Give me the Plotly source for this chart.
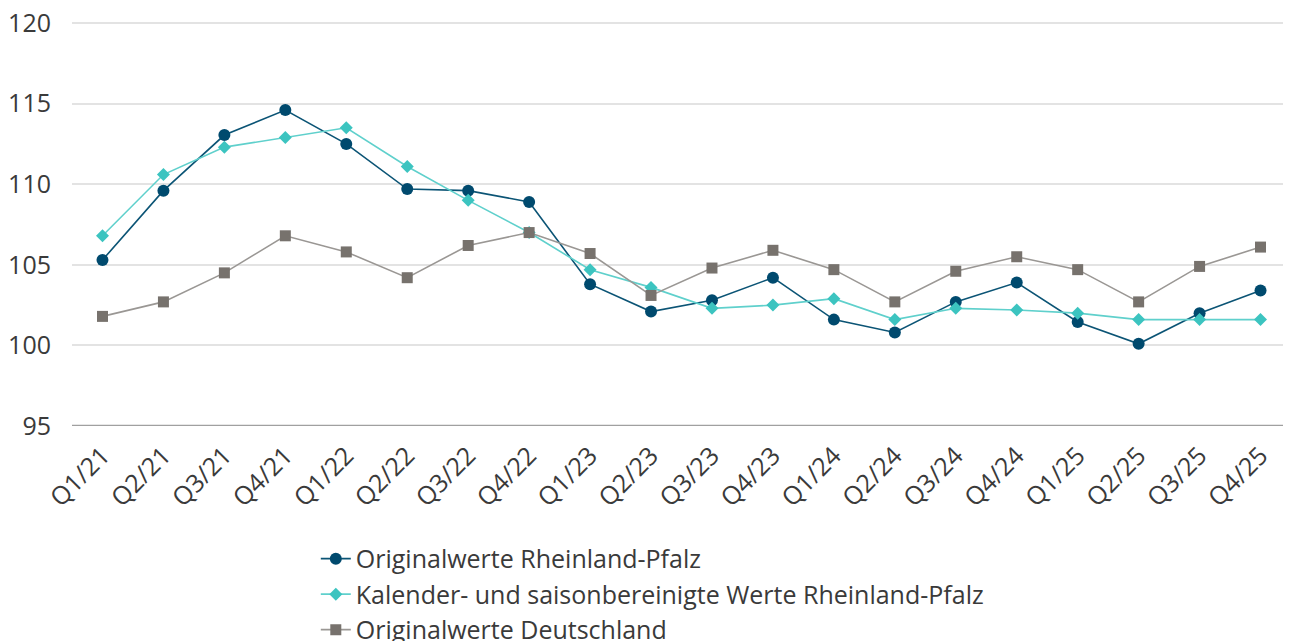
import plotly.graph_objects as go

quarters = ["Q1/21", "Q2/21", "Q3/21", "Q4/21", "Q1/22", "Q2/22", "Q3/22", "Q4/22",
            "Q1/23", "Q2/23", "Q3/23", "Q4/23", "Q1/24", "Q2/24", "Q3/24", "Q4/24",
            "Q1/25", "Q2/25", "Q3/25", "Q4/25"]

orig_rlp = [105.3, 109.6, 113.05, 114.6, 112.5, 109.7, 109.6, 108.9,
            103.8, 102.1, 102.8, 104.2, 101.6, 100.8, 102.7, 103.9,
            101.45, 100.1, 102.0, 103.4]

sa_rlp = [106.8, 110.6, 112.3, 112.9, 113.5, 111.1, 109.0, 107.0,
          104.7, 103.6, 102.3, 102.5, 102.9, 101.6, 102.3, 102.2,
          102.0, 101.6, 101.6, 101.6]

orig_de = [101.8, 102.7, 104.5, 106.8, 105.8, 104.2, 106.2, 107.0,
           105.7, 103.1, 104.8, 105.9, 104.7, 102.7, 104.6, 105.5,
           104.7, 102.7, 104.9, 106.1]

y_ticks = [95, 100, 105, 110, 115, 120]

FONT = "Open Sans"
TXT = "#3a3a3a"
FS = 25

fig = go.Figure()
fig.add_trace(go.Scatter(
    x=quarters, y=orig_rlp, mode="lines+markers",
    name="Originalwerte Rheinland-Pfalz",
    line=dict(color="#0b5475", width=1.6),
    marker=dict(symbol="circle", size=12, color="#004a6e"),
))
fig.add_trace(go.Scatter(
    x=quarters, y=sa_rlp, mode="lines+markers",
    name="Kalender- und saisonbereinigte Werte Rheinland-Pfalz",
    line=dict(color="#5fd0cc", width=1.6),
    marker=dict(symbol="diamond", size=10, color="#3cc4c0"),
))
fig.add_trace(go.Scatter(
    x=quarters, y=orig_de, mode="lines+markers",
    name="Originalwerte Deutschland",
    line=dict(color="#9a9794", width=1.6),
    marker=dict(symbol="square", size=11, color="#77726d"),
))

fig.update_layout(
    width=1283, height=633,
    margin=dict(l=64, r=0, t=11, b=215, autoexpand=False),
    paper_bgcolor="white", plot_bgcolor="white",
    font=dict(family=FONT, size=FS, color=TXT),
    showlegend=True,
    legend=dict(
        orientation="v", x=0.2, xanchor="left", y=-0.27, yanchor="top",
        font=dict(family=FONT, size=FS, color=TXT),
        itemwidth=30, tracegroupgap=0, bgcolor="rgba(0,0,0,0)",
    ),
    xaxis=dict(
        type="category", range=[-0.5, 19.5], tickangle=-45,
        showgrid=False, showline=False, zeroline=False, automargin=False,
        tickfont=dict(family=FONT, size=FS, color=TXT),
        ticks="", ticklabelstandoff=9, ticklabeloverflow="allow",
    ),
    yaxis=dict(
        range=[95, 120.25], tickvals=y_ticks, showgrid=True, automargin=False,
        gridcolor="#e3e3e3", gridwidth=2, zeroline=False, showline=False,
        tickfont=dict(family=FONT, size=FS, color=TXT),
        ticklabelstandoff=20, ticklabeloverflow="allow",
    ),
    shapes=[dict(type="line", xref="paper", yref="y", x0=0, x1=1, y0=95, y1=95,
                 line=dict(color="#a0a0a0", width=2.5), layer="above")],
)

fig.write_html("out.html")
